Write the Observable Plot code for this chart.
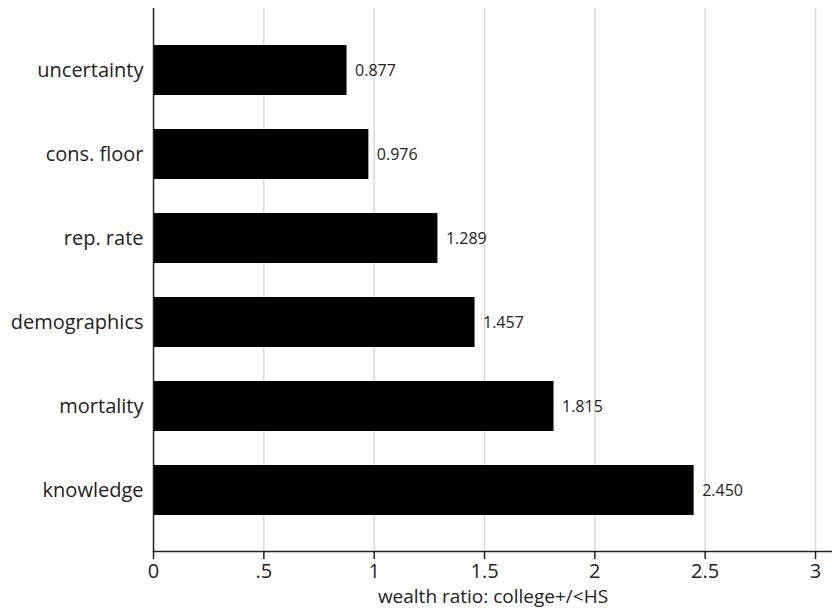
<!DOCTYPE html>
<html>
<head>
<meta charset="utf-8">
<script src="https://cdn.jsdelivr.net/npm/d3@7"></script>
<script src="https://cdn.jsdelivr.net/npm/@observablehq/plot@0.6"></script>
<style>
  html, body { margin: 0; padding: 0; background: #fff; }
  #chart { width: 832px; height: 611px; }
</style>
</head>
<body>
<div id="chart"></div>
<script>
const categories = ["uncertainty", "cons. floor", "rep. rate", "demographics", "mortality", "knowledge"];
const values = [0.877, 0.976, 1.289, 1.457, 1.815, 2.450];
const xTicks = [0, 0.5, 1, 1.5, 2, 2.5, 3];
const xTickLabels = ["0", ".5", "1", "1.5", "2", "2.5", "3"];
const xTitle = "wealth ratio: college+/<HS";

const data = categories.map((c, i) => ({category: c, value: values[i]}));
const tickLabel = new Map(xTicks.map((t, i) => [t, xTickLabels[i]]));

const chart = Plot.plot({
  width: 832,
  height: 611,
  marginLeft: 153,
  marginRight: 0,
  marginTop: 8,
  marginBottom: 60,
  style: {fontFamily: "'Open Sans', sans-serif", color: "#222", background: "#fff"},
  x: {domain: [0, 3.077], axis: null},
  y: {domain: categories, paddingInner: 0.41, paddingOuter: 0.4, axis: null},
  marks: [
    Plot.gridX(xTicks.filter(d => d > 0), {stroke: "#d9d9d9", strokeOpacity: 1, strokeWidth: 1.5}),
    Plot.barX(data, {x: "value", y: "category", fill: "#000"}),
    Plot.text(data, {x: "value", y: "category", text: d => d3.format(".3f")(d.value), textAnchor: "start", dx: 8, fontSize: 16, fill: "#222"}),
    Plot.ruleX([0], {stroke: "#222", strokeWidth: 1.5}),
    Plot.frame({anchor: "bottom", stroke: "#222", strokeWidth: 1.5}),
    Plot.axisX(xTicks, {tickSize: 8, tickPadding: 4, fontSize: 20, tickFormat: d => tickLabel.get(d), label: null, stroke: "#222", strokeWidth: 1.5}),
    Plot.axisY({tickSize: 0, tickPadding: 10, fontSize: 20, label: null}),
    Plot.text([xTitle], {frameAnchor: "bottom", dy: 51, fontSize: 19, fill: "#222"})
  ]
});
document.getElementById("chart").appendChild(chart);
</script>
</body>
</html>
